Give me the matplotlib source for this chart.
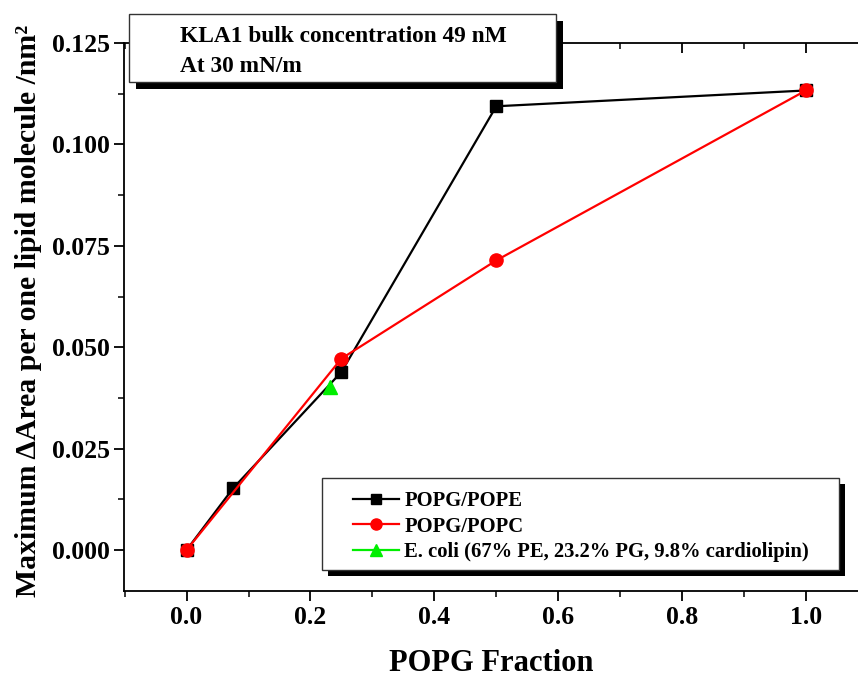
import numpy as np
import matplotlib
matplotlib.use("Agg")
import matplotlib.pyplot as plt
from matplotlib.patches import Rectangle
from matplotlib.lines import Line2D

# data
pope_x = [0.0, 0.075, 0.25, 0.5, 1.0]
pope_y = [0.0, 0.0152, 0.0439, 0.1094, 0.1133]
popc_x = [0.0, 0.25, 0.5, 1.0]
popc_y = [0.0, 0.0472, 0.0714, 0.1133]
ecoli_x = [0.232]
ecoli_y = [0.0403]

labels = ["POPG/POPE", "POPG/POPC", "E. coli (67% PE, 23.2% PG, 9.8% cardiolipin)"]
xticks = [0.0, 0.2, 0.4, 0.6, 0.8, 1.0]
yticks = [0.0, 0.025, 0.05, 0.075, 0.1, 0.125]

plt.rcParams['font.family'] = ['Liberation Serif', 'DejaVu Serif']
plt.rcParams['font.weight'] = 'bold'

W, H = 858, 682
fig = plt.figure(figsize=(W / 100, H / 100), dpi=100)
ax = fig.add_axes([124 / W, 1 - 591 / H, (858 - 124) / W, (591 - 43) / H])

ax.plot(pope_x, pope_y, color='black', lw=1.6, marker='s', ms=9, label=labels[0])
ax.plot(popc_x, popc_y, color='red', lw=1.6, marker='o', ms=9.5, label=labels[1])
ax.plot(ecoli_x, ecoli_y, color='#00ee00', lw=1.6, marker='^', ms=10, label=labels[2])

ax.set_xlim(-0.101, 1.084)
ax.set_ylim(-0.0101, 0.125)
ax.set_xticks(xticks)
ax.set_xticklabels([f"{v:.1f}" for v in xticks])
ax.set_yticks(yticks)
ax.set_yticklabels([f"{v:.3f}" for v in yticks])
ax.set_xticks(np.arange(-0.1, 1.09, 0.1), minor=True)
ax.set_yticks(np.arange(0.0, 0.126, 0.0125), minor=True)
ax.tick_params(which='major', direction='out', length=7, width=1.3, labelsize=18.5, pad=4)
ax.tick_params(which='minor', direction='out', length=4, width=1.1)
ax.tick_params(axis='x', which='both', top=True)
ax.tick_params(axis='y', pad=3)
# ticks on the top spine point inward
for t in ax.xaxis.get_major_ticks():
    t.tick2line.set_marker(3)
    t.tick2line.set_markersize(7)
for t in ax.xaxis.get_minor_ticks():
    t.tick2line.set_marker(3)
    t.tick2line.set_markersize(4)
for lab in ax.get_xticklabels() + ax.get_yticklabels():
    lab.set_fontweight('bold')
ax.spines['right'].set_visible(False)
for s in ['left', 'bottom', 'top']:
    ax.spines[s].set_linewidth(1.3)

ax.set_xlabel("POPG Fraction", fontsize=22, fontweight='bold', labelpad=14)
ax.set_ylabel("Maximum \u0394Area per one lipid molecule /nm\u00b2", fontsize=21.4,
              fontweight='bold')
ax.yaxis.set_label_coords(-0.112, 0.512)

# annotation box with shadow, figure pixel coords
def px_rect(x0, y0, x1, y1, **kw):
    r = Rectangle((x0 / W, 1 - y1 / H), (x1 - x0) / W, (y1 - y0) / H,
                  transform=fig.transFigure, **kw)
    fig.add_artist(r)

px_rect(136, 21, 563, 89, facecolor='black', edgecolor='none', zorder=5)
px_rect(129, 14, 556, 82, facecolor='white', edgecolor='#333333', lw=1.0, zorder=6)
fig.text(180 / W, 1 - 37 / H, "KLA1 bulk concentration 49 nM", fontsize=16.8,
         fontweight='bold', va='center', zorder=7)
fig.text(180 / W, 1 - 66 / H, "At 30 mN/m", fontsize=16.8,
         fontweight='bold', va='center', zorder=7)

# legend box with shadow
px_rect(328, 484, 845, 576, facecolor='black', edgecolor='none', zorder=5)
px_rect(322, 478, 839, 570, facecolor='white', edgecolor='#333333', lw=1.0, zorder=6)
handles = [Line2D([], [], color='black', lw=1.6, marker='s', ms=7),
           Line2D([], [], color='red', lw=1.6, marker='o', ms=8),
           Line2D([], [], color='#00ee00', lw=1.6, marker='^', ms=8)]
leg = fig.legend(handles, labels, loc='upper left', bbox_to_anchor=(339 / W, 1 - 477 / H),
                 frameon=False, prop={'weight': 'bold', 'size': 14.9}, handlelength=2.2,
                 handletextpad=0.25, labelspacing=0.25, borderpad=0.2)
leg.set_zorder(8)

fig.savefig("out.png", dpi=100)
